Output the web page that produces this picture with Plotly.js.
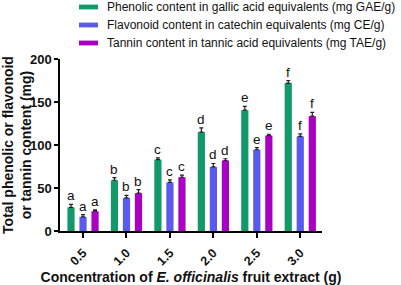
<!DOCTYPE html>
<html><head><meta charset="utf-8">
<script src="https://cdn.plot.ly/plotly-3.0.1.min.js"></script>
<style>html,body{margin:0;padding:0;background:#fff}#chart{width:401px;height:285px}</style>
</head><body><div id="chart"></div>
<script>
const categories = ["0.5","1.0","1.5","2.0","2.5","3.0"];
const seriesNames = [
  "Phenolic content in gallic acid equivalents (mg GAE/g)",
  "Flavonoid content in catechin equivalents (mg CE/g)",
  "Tannin content in tannic acid equivalents (mg TAE/g)"
];
const phenolic = [27.5, 59, 83, 115, 140.5, 172];
const flavonoid = [16.5, 38.5, 56.5, 74.5, 94.5, 110];
const tannin = [23, 44, 62.5, 82, 111, 133.5];
const phenolicErr = [3.5, 3, 2, 5, 4.5, 3];
const flavonoidErr = [2.5, 3, 3, 4, 2.5, 3];
const tanninErr = [1.5, 4, 2.5, 2, 1.5, 4.5];
const letters = ["a","b","c","d","e","f"];
const yTicks = [0, 50, 100, 150, 200];
const colors = ["#12996b","#5a5aef","#aa00c2"];

const values = [phenolic, flavonoid, tannin];
const errs = [phenolicErr, flavonoidErr, tanninErr];
const FONT = "Liberation Sans, Arial, sans-serif";

// plot-area geometry (pixels) used to place the hand-drawn legend
const W = 401, H = 285, ML = 60, MR = 79, MT = 59, MB = 54;
const PW = W - ML - MR, PH = H - MT - MB;
const px = x => (x - ML) / PW;
const py = y => (H - MB - y) / PH;

const traces = values.map((v,i)=>({
  type:"bar", name:seriesNames[i], x:categories, y:v, showlegend:false,
  marker:{color:colors[i]},
  error_y:{type:"data", symmetric:false, array:errs[i], arrayminus:v.map(()=>0),
    color:"#222", thickness:1.2, width:2}
}));

const annotations = [];
const shapes = [];
values.forEach((v,i)=>{
  v.forEach((val,j)=>{
    annotations.push({xref:"x", yref:"y", x:j, y:val+errs[i][j],
      xshift:(i-1)*12, yshift:-1, yanchor:"bottom", showarrow:false, text:letters[j],
      font:{family:FONT, size:13.5, color:"#111"}});
  });
});
// legend (swatch + label per series)
const legendY = [7, 25, 43];
seriesNames.forEach((name,i)=>{
  shapes.push({type:"rect", xref:"paper", yref:"paper",
    x0:px(79), x1:px(98), y0:py(legendY[i]+2.4), y1:py(legendY[i]-2.4),
    fillcolor:colors[i], line:{width:0}});
  annotations.push({xref:"paper", yref:"paper", x:px(106), y:py(legendY[i]),
    xanchor:"left", yanchor:"middle", showarrow:false, text:name, borderpad:0,
    font:{family:FONT, size:12, color:"#111"}});
});

const layout = {
  width:W, height:H,
  margin:{l:ML, r:MR, t:MT, b:MB},
  paper_bgcolor:"#fff", plot_bgcolor:"#fff",
  barmode:"group", bargap:0.17, bargroupgap:0.4,
  showlegend:false,
  xaxis:{type:"category", range:[-0.53,5.5], showline:true, linecolor:"#000", linewidth:1.5,
    ticks:"outside", ticklen:5, tickwidth:1.5, tickcolor:"#000", tickangle:-45,
    tickmode:"array", tickvals:categories, ticktext:categories.map(c=>"<b>"+c+"</b>"),
    tickfont:{family:FONT, size:12.5, color:"#111"}, ticklabelstandoff:3,
    showgrid:false, zeroline:false,
    title:{text:"<b>Concentration of <i>E. officinalis</i> fruit extract (g)</b>", standoff:6,
      font:{family:FONT, size:14, color:"#111"}}},
  yaxis:{range:[0,200], tickmode:"array", tickvals:yTicks, ticktext:yTicks.map(t=>"<b>"+t+"</b>"),
    showline:true, linecolor:"#000", linewidth:1.5,
    ticks:"outside", ticklen:4, tickwidth:1.5, tickcolor:"#000",
    tickfont:{family:FONT, size:13, color:"#111"},
    showgrid:false, zeroline:false,
    title:{text:"<b>Total phenolic or flavonoid<br>or tannin content (mg)</b>", standoff:3,
      font:{family:FONT, size:14, color:"#111"}}},
  shapes:shapes,
  annotations:annotations
};
Plotly.newPlot("chart", traces, layout, {displayModeBar:false});
</script></body></html>
